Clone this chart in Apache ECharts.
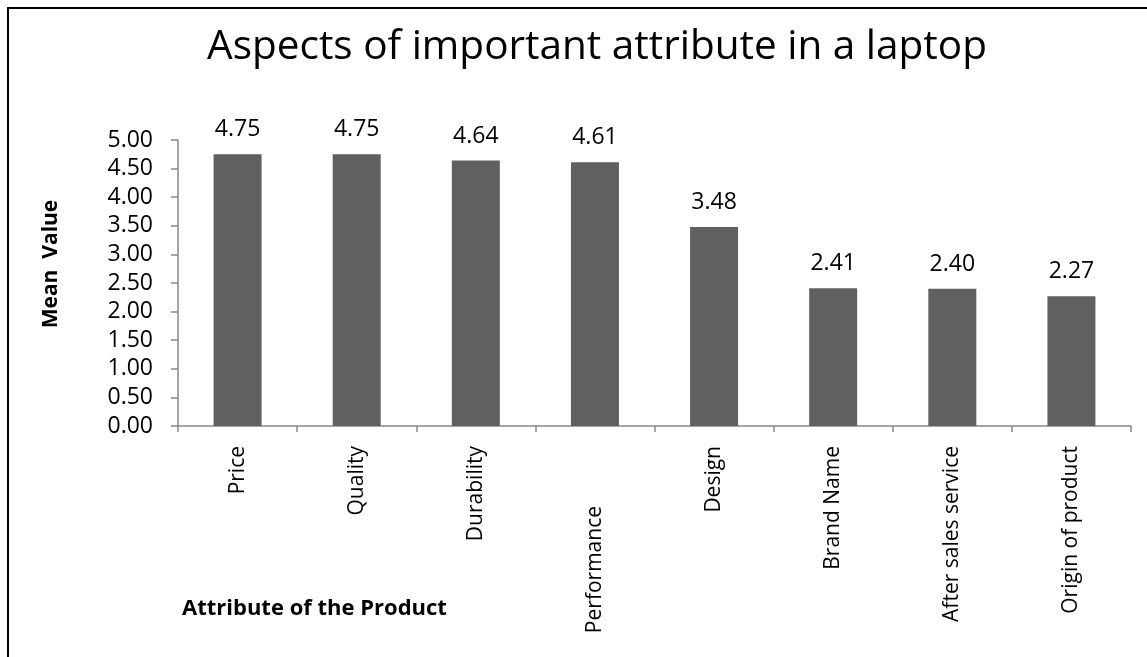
<!DOCTYPE html>
<html><head><meta charset="utf-8">
<script src="https://cdn.jsdelivr.net/npm/echarts@6/dist/echarts.min.js"></script>
<style>html,body{margin:0;padding:0;background:#fff}#c{width:1147px;height:657px}</style>
</head><body><div id="c"></div>
<script>
const categories = ["Price","Quality","Durability","Performance","Design","Brand Name","After sales service","Origin of product"];
const meanValues = [4.75, 4.75, 4.64, 4.61, 3.48, 2.41, 2.40, 2.27];
const titleText = "Aspects of important attribute in a laptop";
const yAxisName = "Mean  Value";
const xAxisName = "Attribute of the Product";

const FONT = "Open Sans";
const chart = echarts.init(document.getElementById('c'));
chart.setOption({
  backgroundColor: '#fff',
  animation: false,
  graphic: [{
    type: 'rect', shape: { x: 8, y: 8, width: 1300, height: 800 },
    style: { fill: 'none', stroke: '#000', lineWidth: 2 }, z: 100
  }, {
    type: 'text', x: 597, y: 47,
    style: { text: titleText, fontFamily: FONT, fontSize: 40.5, fill: '#000', align: 'center', verticalAlign: 'middle' }
  }, {
    type: 'text', x: 182, y: 609,
    style: { text: xAxisName, fontFamily: FONT, fontSize: 22, fontWeight: 'bold', fill: '#000', verticalAlign: 'middle' }
  }, {
    type: 'text', x: 51, y: 264, rotation: Math.PI / 2,
    style: { text: yAxisName, fontFamily: FONT, fontSize: 21, fontWeight: 'bold', fill: '#000', align: 'center', verticalAlign: 'middle' }
  }],
  grid: { left: 178, right: 16, top: 140, bottom: 231, containLabel: false },
  xAxis: {
    type: 'category',
    data: categories.map(function (c) {
      return c === 'Performance' ? { value: c, textStyle: { padding: [0, 60, 0, 0] } } : c;
    }),
    axisLine: { lineStyle: { color: '#888', width: 1.5 } },
    axisTick: { show: true, length: 6, lineStyle: { color: '#888', width: 1.5 } },
    axisLabel: { rotate: 90, interval: 0, margin: 20, fontFamily: FONT, fontSize: 21, color: '#000' }
  },
  yAxis: {
    type: 'value', min: 0, max: 5, interval: 0.5,
    axisLine: { show: true, lineStyle: { color: '#888', width: 1.5 } },
    axisTick: { show: true, inside: false, length: 7, lineStyle: { color: '#888', width: 1.5 } },
    splitLine: { show: false },
    axisLabel: { margin: 25, fontFamily: FONT, fontSize: 23, color: '#000',
      formatter: function (v) { return v.toFixed(2); } }
  },
  series: [{
    type: 'bar', data: meanValues, barWidth: 48,
    itemStyle: { color: '#606060' },
    label: { show: true, position: 'top', distance: 13, fontFamily: FONT, fontSize: 23, color: '#000',
      formatter: function (p) { return p.value.toFixed(2); } }
  }]
});
</script></body></html>
